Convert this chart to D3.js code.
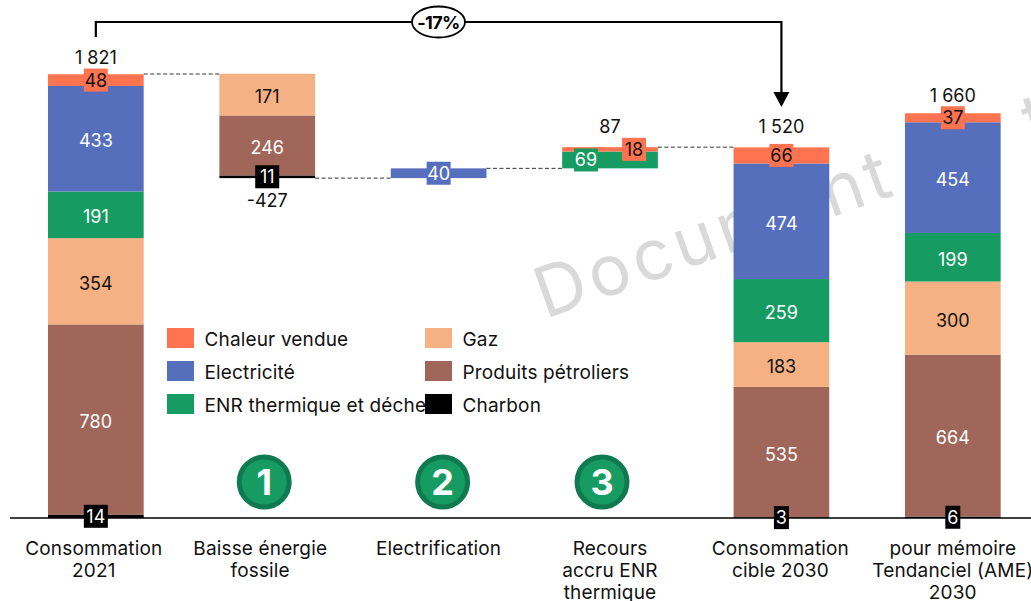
<!DOCTYPE html>
<html><head><meta charset="utf-8">
<script src="https://cdn.jsdelivr.net/npm/d3@7"></script>
<style>html,body{margin:0;padding:0;background:#fff;overflow:hidden}svg{display:block}text{font-family:Inter,"Open Sans",sans-serif}</style>
</head><body><svg id="c" width="1031" height="601"></svg>
<script>
const categories = ["c2021","fossile","elec","enr","c2030","ame"];
const categoryLabels = [["Consommation","2021"],["Baisse énergie","fossile"],["Electrification"],["Recours","accru ENR","thermique"],["Consommation","cible 2030"],["pour mémoire","Tendanciel (AME)","2030"]];
const labelNudge = [-2,-7,0,0,-1,0];
const seriesNames = ["Charbon","Produits pétroliers","Gaz","ENR thermique et déchets","Electricité","Chaleur vendue"];
const seriesColors = ["#000000","#A0665A","#F5B183","#169B62","#566FBC","#FF7350"];
const seriesLabelColors = ["#fff","#fff","#111","#fff","#fff","#111"];
const charbon = [14,11,0,0,3,6];
const petrole = [780,246,0,0,535,664];
const gaz = [354,171,0,0,183,300];
const enr = [191,0,0,69,259,199];
const electricite = [433,0,40,0,474,454];
const chaleur = [48,0,0,18,66,37];
const seriesValues = [charbon,petrole,gaz,enr,electricite,chaleur];
const bases = [0,1394,1394,1434,0,0];
const totals = ["1 821","-427",null,"87","1 520","1 660"];
const totalAnchor = [1821,1394,null,1521,1520,1660];
const totalOffset = [-16,22,0,-20.5,-20.5,-17.5];
const legendLeft = ["Chaleur vendue","Electricité","ENR thermique et déchets"];
const legendRight = ["Gaz","Produits pétroliers","Charbon"];
const steps = [{n:"1",cat:"fossile",dx:-3},{n:"2",cat:"elec",dx:4},{n:"3",cat:"enr",dx:-8}];
const connectors = [[0,1,1821],[1,2,1394],[2,3,1434],[3,4,1521]];
const deltaLabel = "-17%";
const watermark = "Document de travail";

const svg = d3.select("#c");
const x = d3.scaleBand().domain(categories).range([10.15,1038.5]).paddingInner(0.4417).paddingOuter(0.2208);
const y = d3.scaleLinear().domain([0,1821]).range([518,74]);
const cx = c => x(c)+x.bandwidth()/2;

svg.append("text").text(watermark).attr("transform","translate(545,319) rotate(-19.5)")
  .attr("fill","#d9d9d9").attr("font-size",70).attr("letter-spacing",4.5);

connectors.forEach(([a,b,v])=>{
  svg.append("line").attr("x1",x(categories[a])+x.bandwidth()).attr("x2",x(categories[b]))
    .attr("y1",y(v)).attr("y2",y(v)).attr("stroke","#333").attr("stroke-dasharray","4 2.5").attr("stroke-width",1);
});

const labels=[];
categories.forEach((c,i)=>{
  let acc=bases[i];
  seriesValues.forEach((vals,s)=>{
    const v=vals[i]; if(!v) return;
    const y0=y(acc), y1=y(acc+v);
    svg.append("rect").attr("x",x(c)).attr("width",x.bandwidth()).attr("y",y1).attr("height",y0-y1).attr("fill",seriesColors[s]);
    labels.push({c,i,s,v,mid:(y0+y1)/2});
    acc+=v;
  });
});

svg.append("line").attr("x1",10).attr("x2",1031).attr("y1",y(0)).attr("y2",y(0)).attr("stroke","#000").attr("stroke-width",1.6);

labels.forEach(d=>{
  let tx=cx(d.c);
  if(d.c==="enr") tx += d.s===3 ? -24 : 24;
  const w=String(d.v).length*9+6;
  svg.append("rect").attr("x",tx-w/2).attr("y",d.mid-11.5).attr("width",w).attr("height",23).attr("fill",seriesColors[d.s]);
  svg.append("text").attr("x",tx).attr("y",d.mid+(d.v>=100?2:0)).attr("dy","0.36em").attr("text-anchor","middle")
    .attr("font-size",18).attr("fill",seriesLabelColors[d.s]).text(d.v);
});

totals.forEach((t,i)=>{
  if(!t) return;
  const c=categories[i];
  svg.append("text").attr("x",cx(c)).attr("y",y(totalAnchor[i])+totalOffset[i]).attr("dy","0.36em").attr("text-anchor","middle").attr("font-size",18).attr("fill","#111").text(t);
});

categoryLabels.forEach((lines,i)=>{
  lines.forEach((l,j)=>{
    svg.append("text").attr("x",cx(categories[i])+labelNudge[i]).attr("y",548+22*j).attr("dy","0.36em")
      .attr("text-anchor","middle").attr("font-size",19).attr("letter-spacing",0.15).attr("fill","#111").text(l);
  });
});

[legendLeft,legendRight].forEach((names,col)=>{
  names.forEach((n,j)=>{
    const lx=[167,425][col], ly=[338,371,404][j];
    svg.append("text").attr("x",lx+37.5).attr("y",ly+1).attr("dy","0.36em").attr("font-size",19).attr("letter-spacing",0.15).attr("fill","#111").text(n);
  });
});
[legendLeft,legendRight].forEach((names,col)=>{
  names.forEach((n,j)=>{
    const lx=[167,425][col], ly=[338,371,404][j];
    svg.append("rect").attr("x",lx).attr("y",ly-10).attr("width",27).attr("height",20).attr("fill",seriesColors[seriesNames.indexOf(n)]);
  });
});

steps.forEach(s=>{
  const px=cx(s.cat)+s.dx;
  svg.append("circle").attr("cx",px).attr("cy",482).attr("r",25).attr("fill","#169B62").attr("stroke","#0F7A4F").attr("stroke-width",5);
  svg.append("text").attr("x",px).attr("y",482).attr("dy","0.36em").attr("text-anchor","middle").attr("font-size",36).attr("font-weight",700).attr("fill","#fff").text(s.n);
});

const xa=cx("c2021"), xb=cx("c2030");
svg.append("path").attr("d",d3.line()([[xa,37],[xa,22],[xb,22],[xb,93]])).attr("fill","none").attr("stroke","#000").attr("stroke-width",2.2);
svg.append("path").attr("d",d3.line()([[xb-8,92],[xb+8,92],[xb,107]])+"Z").attr("fill","#000");
const ex=438.5;
svg.append("ellipse").attr("cx",ex).attr("cy",22).attr("rx",26.5).attr("ry",15.5).attr("fill","#fff").attr("stroke","#000").attr("stroke-width",1.8);
svg.append("text").attr("x",ex).attr("y",23).attr("dy","0.36em").attr("text-anchor","middle").attr("font-size",18).attr("font-weight",700).attr("fill","#000").attr("letter-spacing","-0.6").text(deltaLabel);
</script></body></html>
